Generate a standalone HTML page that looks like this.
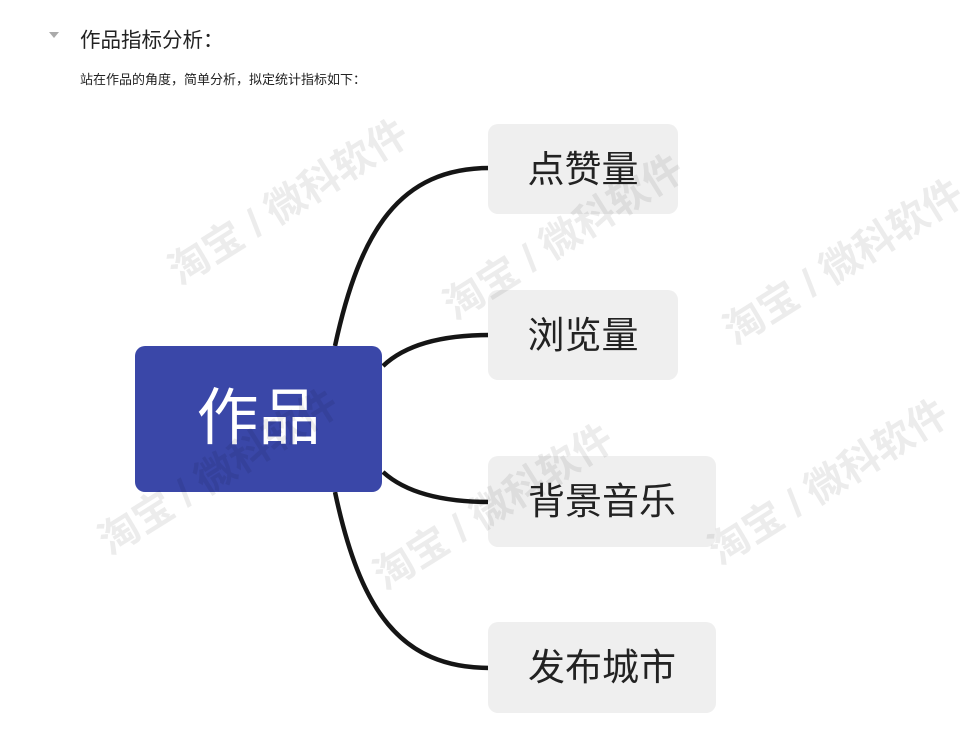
<!DOCTYPE html>
<html><head><meta charset="utf-8"><style>
html,body{margin:0;padding:0;background:#fff;width:962px;height:735px;overflow:hidden;position:relative;font-family:"Liberation Sans","Noto Sans CJK SC",sans-serif;}
.t{position:absolute;white-space:nowrap;}
.node{position:absolute;background:#efefef;border-radius:10px;color:#222;font-size:37px;line-height:1;display:flex;align-items:center;justify-content:center;}
.wm{position:absolute;color:#000;opacity:0.07;font-size:40px;font-weight:bold;transform:rotate(-32deg);white-space:nowrap;}
</style></head><body>
<div class="t" style="left:49px;top:32px;width:0;height:0;border-left:5px solid transparent;border-right:5px solid transparent;border-top:6px solid #aaa;"></div>
<div class="t" style="left:80px;top:23px;font-size:20.5px;color:#222;">作品指标分析：</div>
<div class="t" style="left:80px;top:69px;font-size:13px;color:#222;">站在作品的角度，简单分析，拟定统计指标如下：</div>
<svg width="962" height="735" style="position:absolute;left:0;top:0">
<g fill="none" stroke="#151515" stroke-width="4.5">
<path d="M335 346 C360 230 400 168 490 168"/>
<path d="M383 366 C405 345 440 335 490 335"/>
<path d="M383 472 C405 492 440 502 490 502"/>
<path d="M335 492 C360 610 400 668 490 668"/>
</g></svg>
<div class="node" style="left:135px;top:346px;width:247px;height:146px;background:#3a47a8;color:#fff;font-size:62px;">作品</div>
<div class="node" style="left:488px;top:124px;width:190px;height:90px;">点赞量</div>
<div class="node" style="left:488px;top:290px;width:190px;height:90px;">浏览量</div>
<div class="node" style="left:488px;top:456px;width:228px;height:91px;">背景音乐</div>
<div class="node" style="left:488px;top:622px;width:228px;height:91px;">发布城市</div>
<div class="wm" style="left:150px;top:170px;">淘宝 / 微科软件</div>
<div class="wm" style="left:425px;top:205px;">淘宝 / 微科软件</div>
<div class="wm" style="left:705px;top:230px;">淘宝 / 微科软件</div>
<div class="wm" style="left:80px;top:440px;">淘宝 / 微科软件</div>
<div class="wm" style="left:355px;top:475px;">淘宝 / 微科软件</div>
<div class="wm" style="left:690px;top:450px;">淘宝 / 微科软件</div>
</body></html>
